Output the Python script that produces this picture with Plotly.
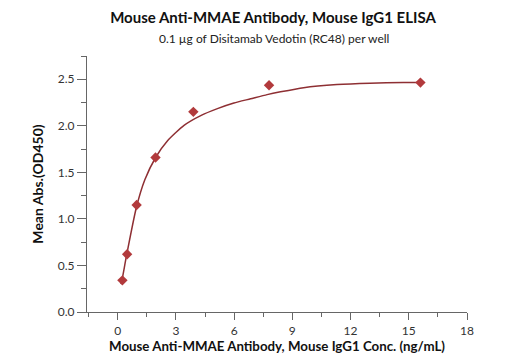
import plotly.graph_objects as go

# Measured data (ng/mL vs OD450)
conc = [0.244, 0.488, 0.977, 1.95, 3.9, 7.8, 15.6]
od450 = [0.34, 0.62, 1.15, 1.66, 2.15, 2.435, 2.464]

# Fitted curve
curve_x = [0.17, 0.22, 0.46, 0.96, 1.4, 1.97, 2.57, 3.42, 4.28, 5.14, 5.99, 6.85, 7.70, 8.39, 9.58, 11.3, 13.0, 14.72, 15.66]
curve_y = [0.30, 0.34, 0.61, 1.12, 1.42, 1.665, 1.84, 2.005, 2.11, 2.185, 2.245, 2.29, 2.335, 2.365, 2.41, 2.443, 2.458, 2.464, 2.466]

x_ticks = [0, 3, 6, 9, 12, 15, 18]
y_ticks = [0.0, 0.5, 1.0, 1.5, 2.0, 2.5]

FONT = "Lato"
fig = go.Figure()
fig.add_trace(go.Scatter(x=curve_x, y=curve_y, mode="lines",
                         line=dict(color="#8E2F33", width=1.5, shape="spline", smoothing=0.6),
                         hoverinfo="skip", showlegend=False))
fig.add_trace(go.Scatter(x=conc, y=od450, mode="markers",
                         marker=dict(symbol="diamond", size=8, color="#B23A3C"),
                         showlegend=False))

axis_common = dict(showgrid=False, zeroline=False, showline=True, linecolor="#666666",
                   linewidth=1.2, ticks="outside", tickcolor="#666666", automargin=False,
                   tickfont=dict(family=FONT, size=12, color="#333333"))

fig.update_layout(
    width=511, height=364,
    margin=dict(l=87, r=44, t=56, b=52),
    paper_bgcolor="white", plot_bgcolor="white",
    title=dict(text="<b>Mouse Anti-MMAE Antibody, Mouse IgG1 ELISA</b>",
               x=273/511, xanchor="center", y=1-18/364, yanchor="middle",
               font=dict(family=FONT, size=15, color="#111111")),
    annotations=[dict(text="0.1 µg of Disitamab Vedotin (RC48) per well",
                      xref="paper", yref="paper", x=(274-87)/380, y=1+(56-38)/256,
                      xanchor="center", yanchor="middle", showarrow=False,
                      font=dict(family=FONT, size=12, color="#222222"))],
    xaxis=dict(range=[-1.58, 18], tickvals=x_ticks, ticklen=7, tickwidth=1.2,
               minor=dict(dtick=1.5, tick0=0, ticklen=4, ticks="outside", tickcolor="#666666"),
               title=dict(text="<b>Mouse Anti-MMAE Antibody, Mouse IgG1 Conc. (ng/mL)</b>",
                          font=dict(family=FONT, size=13.3, color="#111111"), standoff=5),
               **axis_common),
    yaxis=dict(range=[0, 2.75], tickvals=y_ticks, tickformat=".1f", ticklen=9, tickwidth=1.2,
               minor=dict(dtick=0.25, tick0=0, ticklen=5, ticks="outside", tickcolor="#666666"),
               title=dict(text="<b>Mean Abs.(OD450)</b>",
                          font=dict(family=FONT, size=14, color="#111111"), standoff=10),
               **axis_common),
)

fig.write_html("out.html", config={"displayModeBar": False},
               post_script="document.body.style.margin='0';")
